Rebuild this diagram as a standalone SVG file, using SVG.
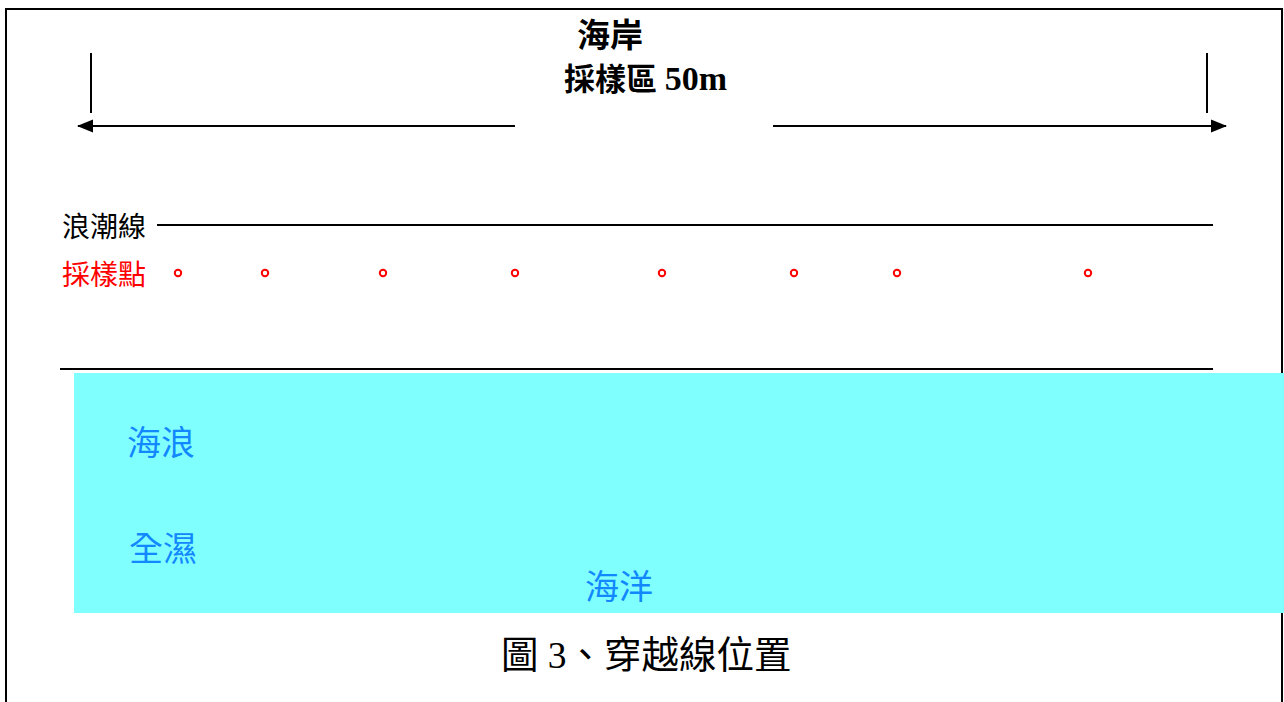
<svg xmlns="http://www.w3.org/2000/svg" width="1284" height="702" viewBox="0 0 1284 702">
<style>
.cjk{font-family:"Liberation Serif","Noto Sans CJK TC",serif;}
.ln{stroke:#000;stroke-width:2;fill:none;}
.pt{fill:none;stroke:#f00;stroke-width:2;}
.blue{fill:#1288ff;}
</style>
<defs>
<marker id="ah" markerWidth="16" markerHeight="14" refX="15" refY="7" orient="auto" markerUnits="userSpaceOnUse">
<path d="M0,0.5 L16,7 L0,13.5 Z" fill="#000"/>
</marker>
</defs>
<rect x="0" y="0" width="1284" height="702" fill="#fff"/>
<rect x="6" y="9" width="1276" height="720" fill="none" stroke="#000" stroke-width="2"/>
<g id="sea">
<rect x="74" y="373" width="1210" height="240" fill="#80ffff"/>
<text class="cjk blue" x="127" y="455" font-size="34">海浪</text>
<text class="cjk blue" x="129" y="561" font-size="34">全濕</text>
<text class="cjk blue" x="585" y="599" font-size="34">海洋</text>
</g>
<g id="connectors">
<line class="ln" x1="91" y1="53" x2="91" y2="113"/>
<line class="ln" x1="1207" y1="53" x2="1207" y2="113"/>
<line class="ln" x1="515" y1="126" x2="78" y2="126" marker-end="url(#ah)"/>
<line class="ln" x1="773" y1="126" x2="1226" y2="126" marker-end="url(#ah)"/>
<line class="ln" x1="157" y1="225" x2="1213" y2="225"/>
<line class="ln" x1="60" y1="369" x2="1213" y2="369"/>
</g>
<g id="title">
<text class="cjk" x="577" y="47" font-size="33" font-weight="bold">海岸</text>
<text class="cjk" x="564" y="90" font-size="31" font-weight="bold">採樣區 <tspan font-size="34">50m</tspan></text>
</g>
<g id="tideline">
<text class="cjk" x="62" y="237" font-size="28">浪潮線</text>
</g>
<g id="samples">
<text class="cjk" x="62" y="285" font-size="28" fill="#f00">採樣點</text>
<circle class="pt" cx="178" cy="273" r="3.2"/>
<circle class="pt" cx="265" cy="273" r="3.2"/>
<circle class="pt" cx="383" cy="273" r="3.2"/>
<circle class="pt" cx="515" cy="273" r="3.2"/>
<circle class="pt" cx="662" cy="273" r="3.2"/>
<circle class="pt" cx="794" cy="273" r="3.2"/>
<circle class="pt" cx="897" cy="273" r="3.2"/>
<circle class="pt" cx="1088" cy="273" r="3.2"/>
</g>
<g id="caption">
<text class="cjk" x="501" y="668" font-size="37.5">圖 3、穿越線位置</text>
</g>
</svg>
